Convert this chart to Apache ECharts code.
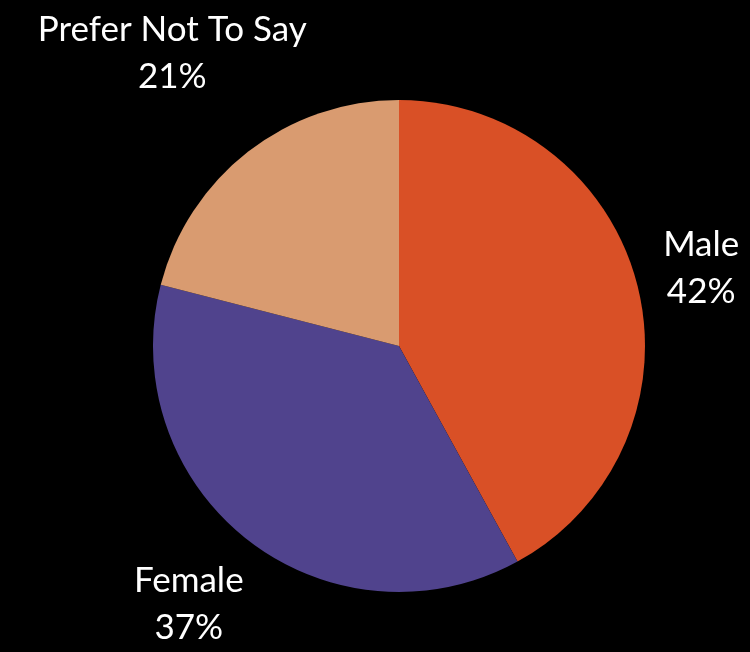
<!DOCTYPE html>
<html>
<head>
<meta charset="utf-8">
<script src="https://cdn.jsdelivr.net/npm/echarts@6/dist/echarts.min.js"></script>
<style>
  html, body { margin: 0; padding: 0; background: #000; }
  #chart { width: 750px; height: 652px; }
</style>
</head>
<body>
<div id="chart"></div>
<script>
var categories = ['Male', 'Female', 'Prefer Not To Say'];
var values = [42, 37, 21];
var colors = ['#D95026', '#50438D', '#D99B70'];
// distance of each label from the pie edge
var labelGap = [66, 97, 124];

var myChart = echarts.init(document.getElementById('chart'));

var seriesData = [];
for (var i = 0; i < categories.length; i++) {
    seriesData.push({
        name: categories[i],
        value: values[i],
        itemStyle: { color: colors[i] },
        labelLine: { show: false, length: labelGap[i], length2: 0 }
    });
}

var option = {
    backgroundColor: '#000',
    series: [{
        type: 'pie',
        center: [399, 346],
        radius: 246,
        startAngle: 90,
        clockwise: true,
        animation: false,
        silent: true,
        itemStyle: { borderWidth: 0 },
        label: {
            show: true,
            position: 'outside',
            overflow: 'none',
            distanceToLabelLine: 0,
            color: '#fff',
            fontFamily: 'Lato',
            fontSize: 35,
            lineHeight: 47,
            formatter: function (p) {
                return p.name + '\n' + Math.round(p.percent) + '%';
            }
        },
        // centre both lines of each label on its anchor point
        labelLayout: function () {
            return { align: 'center' };
        },
        data: seriesData
    }]
};

myChart.setOption(option);
</script>
</body>
</html>
